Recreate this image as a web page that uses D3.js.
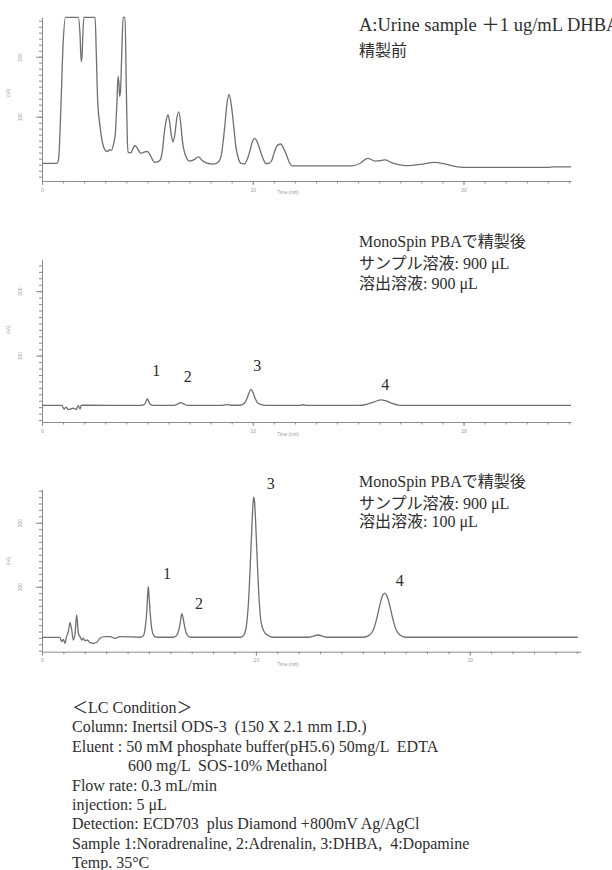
<!DOCTYPE html>
<html>
<head>
<meta charset="utf-8">
<script src="https://cdn.jsdelivr.net/npm/d3@7"></script>
<style>
  body { margin: 0; background: #fff; }
  svg { display: block; }
</style>
</head>
<body>
<script>
// trace A: urine sample before cleanup (time in min, signal)
var timeA = [0, 0.72, 0.79, 0.9, 1.0, 1.12, 1.72, 1.8, 1.86, 1.9, 1.93, 1.99, 2.52, 2.58, 2.64, 2.75, 2.85, 2.92, 3.0, 3.11,
  3.2, 3.29, 3.4, 3.48, 3.55, 3.61, 3.66, 3.68, 3.72, 3.78, 3.85, 3.94, 4.0, 4.05, 4.09, 4.22, 4.32, 4.41, 4.55, 4.68,
  4.85, 5.0, 5.15, 5.33, 5.5, 5.61, 5.72, 5.8, 5.9, 5.98, 6.06, 6.14, 6.22, 6.3, 6.4, 6.49, 6.58, 6.66, 6.73, 6.85,
  7.01, 7.2, 7.43, 7.6, 7.8, 8.12, 8.35, 8.49, 8.6, 8.67, 8.77, 8.88, 8.98, 9.1, 9.2, 9.33, 9.45, 9.6, 9.75, 9.88,
  10.0, 10.1, 10.22, 10.35, 10.5, 10.62, 10.75, 10.9, 11.0, 11.1, 11.2, 11.33, 11.45, 11.59, 11.72, 11.89, 14.71, 15.08, 15.45, 15.82,
  16.1, 16.28, 16.56, 16.93, 17.31, 18.05, 18.6, 19.16, 19.72, 20.27, 24.08, 24.2, 25.1];
var signalA = [22.3, 22.3, 30, 120, 220, 265.6, 265.6, 240, 192, 200, 230, 265.6, 265.6, 200, 128, 85, 60, 50, 44, 42,
  45, 44, 55, 72, 120, 167, 150, 134, 140, 200, 265.6, 265.6, 150, 60, 40, 40, 47, 52, 46, 39,
  41, 42, 35, 24, 25, 28, 45, 72, 95, 103, 90, 68, 58, 70, 98, 108, 90, 60, 45, 32,
  26, 28, 33, 27, 23, 21, 24, 33, 60, 83, 120, 137, 120, 83, 50, 29, 22, 21.5, 30, 45,
  60, 64, 57, 44, 29, 22, 22, 27, 38, 48, 53, 54.5, 48, 37, 25, 18, 18, 22, 30.6, 26,
  27, 28, 24, 20, 18.5, 21, 24, 21, 16.5, 15.6, 15.6, 16.3, 16.3];

// trace B: after MonoSpin PBA, elution 900 uL
var timeB = [0, 0.94, 1.05, 1.14, 1.25, 1.36, 1.49, 1.62, 1.72, 1.81, 1.85, 1.93, 4.7, 4.88, 4.96, 5.0, 5.05, 5.12, 5.3, 6.25,
  6.45, 6.58, 6.72, 6.9, 8.5, 8.75, 9.0, 9.4, 9.6, 9.72, 9.82, 9.92, 10.02, 10.12, 10.25, 10.45, 10.7, 12.2, 12.4, 12.6,
  15.0, 15.4, 15.75, 16.0, 16.1, 16.3, 16.6, 16.9, 17.1, 25.1];
var signalB = [22.7, 22.7, 17.1, 20.2, 16.2, 17.1, 18.6, 16.2, 22.3, 17.1, 22.7, 23, 22.7, 25, 31, 33, 30, 25, 22.7, 22.7,
  25, 27, 25, 22.7, 22.7, 24, 23, 23, 26, 33, 42, 47.5, 42, 33, 26, 23.5, 22.7, 22.7, 23.8, 22.7,
  22.7, 24.5, 28, 31, 31.3, 30, 26, 23.2, 22.7, 22.7];

// trace C: after MonoSpin PBA, elution 100 uL
var timeC = [0, 0.84, 0.92, 1.0, 1.07, 1.15, 1.23, 1.31, 1.39, 1.46, 1.54, 1.62, 1.7, 1.78, 1.86, 1.93, 2.01, 2.12, 2.24, 2.4,
  2.56, 2.71, 2.94, 3.18, 3.41, 3.64, 4.6, 4.75, 4.84, 4.9, 4.94, 4.97, 5.0, 5.05, 5.11, 5.22, 5.35, 6.15, 6.3, 6.4,
  6.47, 6.51, 6.54, 6.58, 6.63, 6.7, 6.8, 6.95, 9.3, 9.45, 9.58, 9.67, 9.74, 9.82, 9.87, 9.9, 9.94, 9.99, 10.07, 10.15,
  10.24, 10.38, 10.55, 10.8, 12.5, 12.9, 13.3, 15.0, 15.3, 15.5, 15.65, 15.8, 15.92, 16.02, 16.12, 16.25, 16.4, 16.55, 16.75, 17.0,
  25.05];
var signalC = [20.9, 20.9, 14.1, 17.8, 11.6, 21.9, 29.7, 43.8, 32.3, 16.7, 24.5, 55.8, 27.2, 21.9, 16.7, 19.4, 15.6, 16.7, 12.5, 11.6,
  13.1, 19.4, 21.9, 21.9, 19.4, 21.9, 21, 24, 40, 62, 88, 100, 88, 62, 40, 24, 21, 21, 24, 33,
  45, 54, 58, 54, 45, 33, 24, 21, 21, 25, 45, 85, 135, 200, 232, 240, 232, 200, 135, 80,
  45, 30, 24, 21, 21, 24.5, 21, 21, 24, 33, 50, 72, 86, 90, 86, 72, 50, 33, 24, 21,
  21];

// peak numbers (1 Noradrenaline, 2 Adrenalin, 3 DHBA, 4 Dopamine)
var peakNames = ['1', '2', '3', '4'];
var peakTimesB = [5.42, 6.91, 10.21, 16.29];
var peakLevelsB = [77, 68, 85, 56];
var peakTimesC = [5.84, 7.34, 10.7, 16.73];
var peakLevelsC = [121, 74.5, 262, 110.5];

var notesA = ['A:Urine sample ＋1 ug/mL DHBA', '精製前'];
var notesB = ['MonoSpin PBAで精製後', 'サンプル溶液: 900 μL', '溶出溶液: 900 μL'];
var notesC = ['MonoSpin PBAで精製後', 'サンプル溶液: 900 μL', '溶出溶液: 100 μL'];

var conditionLines = [
  '＜LC Condition＞',
  'Column: Inertsil ODS-3  (150 X 2.1 mm I.D.)',
  'Eluent : 50 mM phosphate buffer(pH5.6) 50mg/L  EDTA',
  '600 mg/L  SOS-10% Methanol',
  'Flow rate: 0.3 mL/min',
  'injection: 5 μL',
  'Detection: ECD703  plus Diamond +800mV Ag/AgCl',
  'Sample 1:Noradrenaline, 2:Adrenalin, 3:DHBA,  4:Dopamine',
  'Temp. 35°C'
];

var xTicks = [0, 10, 20];
var yTicks = [100, 200];

var width = 612;
var height = 870;
var serif = '"Liberation Serif", "Times New Roman", serif';
var gothic = '"Noto Sans CJK JP", sans-serif';
var tiny = '"Liberation Sans", Arial, sans-serif';
var lineColor = '#6f6f6f';
var axisColor = '#8c8c8c';
var textColor = '#2e2e2e';

var svg = d3.select('body')
  .append('svg')
  .attr('width', width)
  .attr('height', height);

// one panel per chromatogram, layout only
var panels = [
  { time: timeA, signal: signalA, left: 42, right: 571, tMax: 25.1, top: 17.3, bottom: 181, vTop: 265.7, vBottom: -7.2,
    notes: notesA, noteY: [31, 56], noteSize: [18.5, 16], titleY: 194 },
  { time: timeB, signal: signalB, left: 42, right: 571, tMax: 25.1, top: 259.3, bottom: 422, vTop: 249.5, vBottom: -3,
    notes: notesB, noteY: [247, 269, 289], noteSize: [16, 16, 16], titleY: 436,
    peakT: peakTimesB, peakV: peakLevelsB },
  { time: timeC, signal: signalC, left: 42, right: 581, tMax: 25.2, top: 489.3, bottom: 651.7, vTop: 252.2, vBottom: -1.6,
    notes: notesC, noteY: [487, 509, 527], noteSize: [16, 16, 16], titleY: 666,
    peakT: peakTimesC, peakV: peakLevelsC }
];

// split a line into latin / japanese runs so each gets its own face
function addRuns(sel) {
  sel.each(function(d) {
    var el = d3.select(this);
    d.split(/([\u3000-\u9fff\uff00-\uffef]+)/).filter(function(s) { return s.length; })
      .forEach(function(s) {
        var cjk = /[\u3000-\u9fff\uff00-\uffef]/.test(s);
        el.append('tspan')
          .attr('font-family', cjk ? gothic : serif)
          .text(s);
      });
  });
}

panels.forEach(function(p) {
  var g = svg.append('g');

  var x = d3.scaleLinear().domain([0, p.tMax]).range([p.left, p.right]);
  var y = d3.scaleLinear().domain([p.vBottom, p.vTop]).range([p.bottom, p.top]);

  // minor ticks
  g.append('g')
    .attr('transform', 'translate(0,' + p.bottom + ')')
    .call(d3.axisBottom(x).tickValues(d3.range(0, Math.floor(p.tMax) + 1, 1)).tickSize(2.5).tickFormat(''))
    .call(function(a) { a.select('.domain').remove(); });
  g.append('g')
    .attr('transform', 'translate(' + p.left + ',0)')
    .call(d3.axisLeft(y).tickValues(d3.range(0, p.vTop, 10)).tickSize(3).tickFormat(''))
    .call(function(a) { a.select('.domain').remove(); });

  // major ticks with labels
  var xAxis = g.append('g')
    .attr('transform', 'translate(0,' + p.bottom + ')')
    .call(d3.axisBottom(x).tickValues(xTicks).tickSize(4).tickPadding(3).tickSizeOuter(0));
  xAxis.selectAll('text')
    .attr('font-size', 5)
    .attr('font-family', tiny)
    .attr('fill', '#9a9a9a');

  var yAxis = g.append('g')
    .attr('transform', 'translate(' + p.left + ',0)')
    .call(d3.axisLeft(y).tickValues(yTicks).tickSize(6).tickSizeOuter(0));
  yAxis.selectAll('text')
    .attr('transform', 'rotate(-90)')
    .attr('x', 0)
    .attr('y', -20)
    .attr('dy', 0)
    .attr('text-anchor', 'middle')
    .attr('font-size', 5)
    .attr('font-family', tiny)
    .attr('fill', '#9a9a9a');

  g.selectAll('.domain, .tick line')
    .attr('stroke', axisColor)
    .attr('stroke-width', 1);

  g.append('text')
    .attr('x', 288)
    .attr('y', p.titleY)
    .attr('text-anchor', 'middle')
    .attr('font-size', 4.5)
    .attr('font-family', tiny)
    .attr('fill', '#9a9a9a')
    .text('Time (min)');

  g.append('text')
    .attr('transform', 'translate(10,' + y(140) + ') rotate(-90)')
    .attr('text-anchor', 'middle')
    .attr('font-size', 4.5)
    .attr('font-family', tiny)
    .attr('fill', '#b0b0b0')
    .text('(nA)');

  var pts = p.time.map(function(t, i) { return [t, p.signal[i]]; });
  var line = d3.line()
    .x(function(d) { return x(d[0]); })
    .y(function(d) { return y(d[1]); })
    .curve(d3.curveMonotoneX);

  g.append('path')
    .datum(pts)
    .attr('fill', 'none')
    .attr('stroke', lineColor)
    .attr('stroke-width', 1.3)
    .attr('stroke-linejoin', 'round')
    .attr('d', line);

  if (p.peakT) {
    g.selectAll('.peak')
      .data(peakNames)
      .enter()
      .append('text')
      .attr('x', function(d, i) { return x(p.peakT[i]); })
      .attr('y', function(d, i) { return y(p.peakV[i]); })
      .attr('dy', '0.35em')
      .attr('text-anchor', 'middle')
      .attr('font-size', 16)
      .attr('font-family', serif)
      .attr('fill', textColor)
      .text(function(d) { return d; });
  }

  g.selectAll('.note')
    .data(p.notes)
    .enter()
    .append('text')
    .attr('x', 359)
    .attr('y', function(d, i) { return p.noteY[i]; })
    .attr('font-size', function(d, i) { return p.noteSize[i]; })
    .attr('fill', textColor)
    .call(addRuns);
});

// LC condition block
svg.append('g')
  .selectAll('text')
  .data(conditionLines)
  .enter()
  .append('text')
  .attr('x', function(d, i) { return i === 3 ? 128 : 72; })
  .attr('y', function(d, i) { return 713 + i * 19.4; })
  .attr('font-size', 16)
  .attr('fill', textColor)
  .style('white-space', 'pre')
  .call(addRuns);
</script>
</body>
</html>
